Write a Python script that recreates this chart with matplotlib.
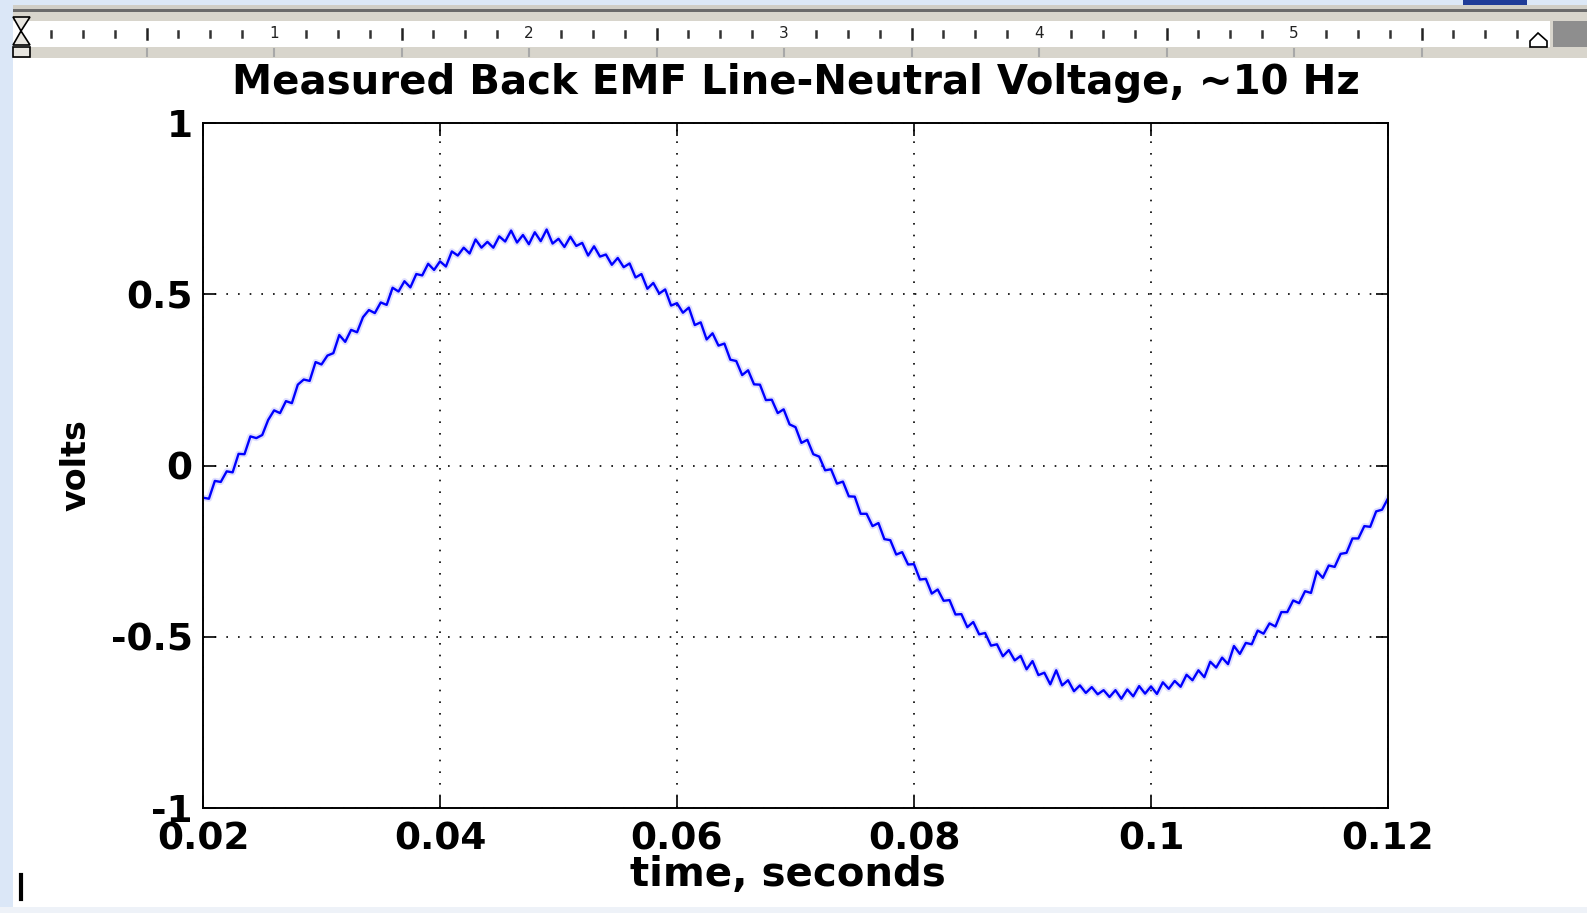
"""
plot.py

Measured back EMF (line-neutral) trace, redrawn as a MATLAB-style figure
pasted into a Word page (ruler strip on top).

Output: out.png (1587x913)
"""
import numpy as np
import matplotlib
matplotlib.use('Agg')
import matplotlib.pyplot as plt
from matplotlib.patches import Rectangle, Polygon

# ---- data (one sample every 0.5 ms) ----
t_start = 0.02
t_step = 0.0005
volts = [
    -0.094, -0.097, -0.045, -0.048, -0.017, -0.020, 0.034, 0.033, 0.085, 0.080,
    0.089, 0.133, 0.161, 0.153, 0.188, 0.182, 0.236, 0.251, 0.247, 0.302,
    0.295, 0.321, 0.328, 0.381, 0.361, 0.396, 0.389, 0.433, 0.454, 0.445,
    0.476, 0.469, 0.519, 0.508, 0.538, 0.520, 0.559, 0.555, 0.589, 0.571,
    0.596, 0.581, 0.625, 0.613, 0.636, 0.619, 0.660, 0.636, 0.653, 0.636,
    0.669, 0.654, 0.686, 0.651, 0.673, 0.646, 0.681, 0.655, 0.689, 0.648,
    0.662, 0.638, 0.668, 0.641, 0.650, 0.613, 0.640, 0.610, 0.616, 0.586,
    0.606, 0.579, 0.590, 0.549, 0.559, 0.516, 0.533, 0.502, 0.514, 0.467,
    0.474, 0.446, 0.461, 0.410, 0.418, 0.368, 0.386, 0.350, 0.356, 0.309,
    0.305, 0.264, 0.278, 0.237, 0.236, 0.191, 0.192, 0.153, 0.164, 0.120,
    0.112, 0.066, 0.075, 0.033, 0.026, -0.014, -0.011, -0.053, -0.047, -0.090,
    -0.091, -0.141, -0.141, -0.177, -0.168, -0.215, -0.218, -0.260, -0.253, -0.289,
    -0.288, -0.333, -0.331, -0.374, -0.362, -0.395, -0.393, -0.435, -0.434, -0.472,
    -0.457, -0.493, -0.489, -0.526, -0.522, -0.557, -0.539, -0.569, -0.556, -0.595,
    -0.571, -0.612, -0.605, -0.639, -0.598, -0.642, -0.627, -0.659, -0.642, -0.664,
    -0.647, -0.668, -0.656, -0.676, -0.656, -0.681, -0.654, -0.674, -0.644, -0.666,
    -0.645, -0.667, -0.633, -0.652, -0.629, -0.646, -0.611, -0.627, -0.598, -0.618,
    -0.573, -0.590, -0.561, -0.580, -0.527, -0.550, -0.518, -0.522, -0.482, -0.491,
    -0.461, -0.470, -0.428, -0.428, -0.394, -0.402, -0.367, -0.372, -0.309, -0.328,
    -0.292, -0.296, -0.258, -0.255, -0.213, -0.213, -0.177, -0.179, -0.134, -0.129,
    -0.096,
]
times = t_start + t_step * np.arange(len(volts))

x_ticks = [0.02, 0.04, 0.06, 0.08, 0.10, 0.12]
x_tick_labels = ['0.02', '0.04', '0.06', '0.08', '0.1', '0.12']
y_ticks = [-1, -0.5, 0, 0.5, 1]
y_tick_labels = ['-1', '-0.5', '0', '0.5', '1']

title = 'Measured Back EMF Line-Neutral Voltage, ~10 Hz'

plt.rcParams['font.family'] = ['DejaVu Sans']
plt.rcParams['font.weight'] = 'bold'
plt.rcParams['axes.labelweight'] = 'bold'

W, H = 1587, 913
fig = plt.figure(figsize=(W / 100, H / 100), dpi=100, facecolor='white')

# ---- page chrome (pixel coords, y down) ----
bg = fig.add_axes([0, 0, 1, 1], zorder=0)
bg.set_xlim(0, W)
bg.set_ylim(H, 0)
bg.axis('off')

bg.add_patch(Rectangle((0, 0), W, 5, color='#dce8f6', lw=0))
bg.add_patch(Rectangle((0, 5), W, 4, color='#d0cec6', lw=0))
bg.add_patch(Rectangle((0, 9), W, 3, color='#6a6a6a', lw=0))
bg.add_patch(Rectangle((0, 12), W, 46, color='#d8d5cc', lw=0))
bg.add_patch(Rectangle((13, 21), 1537, 26, color='white', lw=0))
bg.add_patch(Rectangle((1553, 21), W - 1553, 26, color='#8e8e8e', lw=0))
bg.add_patch(Rectangle((1463, 0), 64, 5, color='#1f3c98', lw=0))
bg.add_patch(Rectangle((0, 0), 13, H, color='#dbe7f7', lw=0))
bg.add_patch(Rectangle((0, 907), W, 6, color='#eef2f8', lw=0))

# indent markers
bg.add_patch(Polygon([(13, 17), (30, 17), (21, 31), (30, 45), (13, 45), (21, 31)],
                     closed=True, facecolor='#e8e6e0', edgecolor='black', lw=1.2))
bg.add_patch(Rectangle((13, 47), 17, 10, facecolor='#e8e6e0', edgecolor='black', lw=1.2))
bg.add_patch(Polygon([(1530, 47), (1547, 47), (1547, 41), (1538, 33), (1530, 41)],
                     closed=True, facecolor='white', edgecolor='black', lw=1.2))

# ruler ticks, 1/8 inch apart
x0, step = 19, 255 / 8
for k in range(1, 48):
    x = x0 + k * step
    if x > 1540:
        break
    if k % 8 == 0:
        bg.text(x, 34, str(k // 8), ha='center', va='center', fontsize=11,
                fontweight='normal', color='#222222')
        bg.plot([x, x], [49, 56], color='#a8a8a8', lw=1.5)
    elif k % 4 == 0:
        bg.plot([x, x], [29, 39], color='#222222', lw=1.8)
        bg.plot([x, x], [49, 56], color='#a8a8a8', lw=1.5)
    else:
        bg.plot([x, x], [31, 37], color='#333333', lw=1.8)

# text cursor
bg.plot([21, 21], [875, 899], color='black', lw=3)

# ---- the plot ----
ax = fig.add_axes([203 / W, 1 - 808 / H, 1185 / W, 685 / H], zorder=1)
ax.plot(times, volts, color='#8080ff', lw=4.5, alpha=0.25)
ax.plot(times, volts, color='#0000ff', lw=1.7)

ax.set_xlim(0.02, 0.12)
ax.set_ylim(-1, 1)
ax.set_xticks(x_ticks)
ax.set_xticklabels(x_tick_labels)
ax.set_yticks(y_ticks)
ax.set_yticklabels(y_tick_labels)

ax.grid(True, color='black', linestyle=(0, (1, 6)), linewidth=1.2)
for s in ax.spines.values():
    s.set_linewidth(1.4)
ax.tick_params(direction='in', length=9, width=1.2, top=True, right=True,
               labelsize=27, colors='black')
ax.tick_params(axis='x', pad=9.5)
ax.tick_params(axis='y', pad=7.5)

ax.set_xlabel('time, seconds', fontsize=29, va='baseline')
ax.xaxis.set_label_coords(0.4937, -0.1139)
ax.set_ylabel('volts', fontsize=24, va='center')
ax.yaxis.set_label_coords(-0.1072, 0.5)

fig.text(795.5 / W, 1 - 94 / H, title, ha='center', va='baseline', fontsize=29)

fig.savefig('out.png', dpi=100)
